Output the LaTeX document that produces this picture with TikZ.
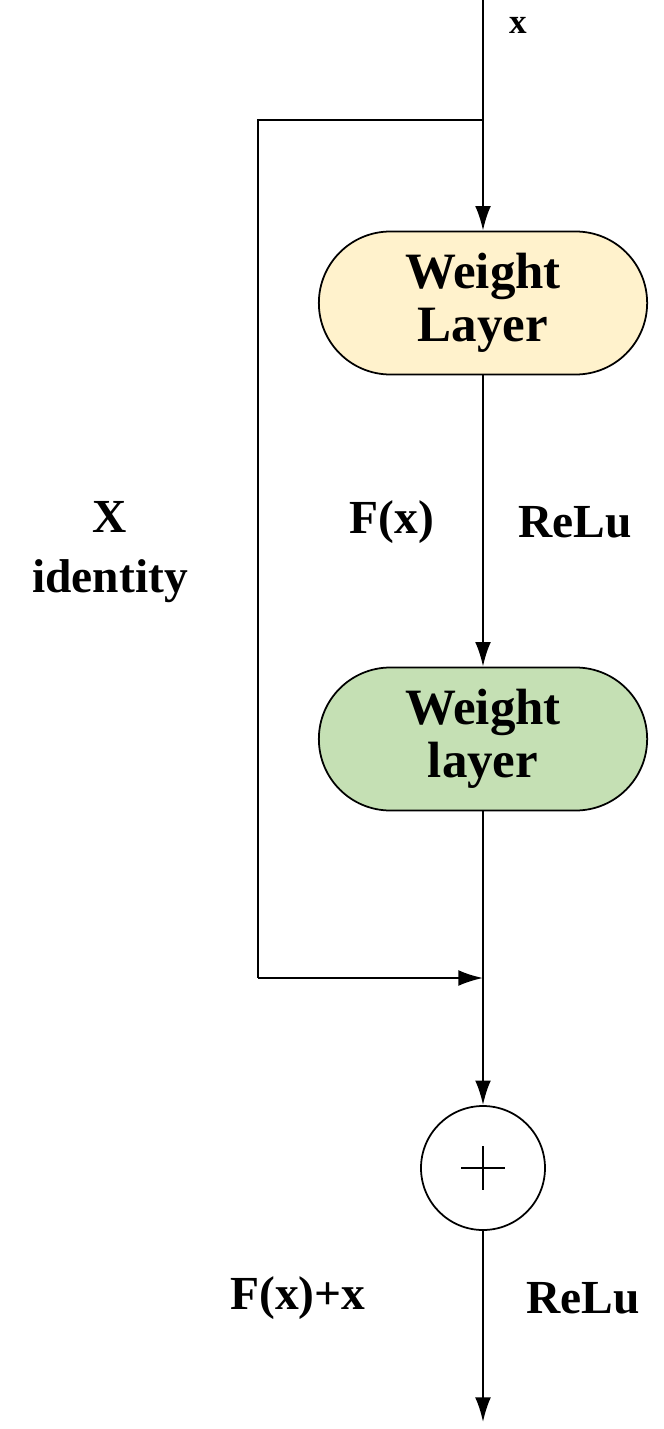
\documentclass[tikz,border=0pt]{standalone}
\usepackage{fontspec}
\setmainfont{Liberation Serif}
\usetikzlibrary{arrows.meta,shapes.misc}
\definecolor{yel}{HTML}{FFF2CC}
\definecolor{grn}{HTML}{C5E0B4}
\begin{document}
\begin{tikzpicture}[x=0.02cm,y=-0.02cm,
  line width=1.2pt,
  arr/.style={-{Latex[length=14pt,width=9pt]}},
  box/.style={rounded rectangle,draw,line width=1pt,minimum width=340*0.02cm,minimum height=143*0.02cm,align=center,font=\fontsize{29}{34}\selectfont\bfseries},
  lab/.style={font=\fontsize{27}{32}\selectfont\bfseries,align=center}]
\useasboundingbox (0,0) rectangle (663,1429);
\coordinate (top) at (483,0);
\coordinate (br) at (483,120);
\coordinate (bl) at (258,120);
\coordinate (cl) at (258,978);
\coordinate (j) at (483,978);
\coordinate (end) at (483,1422);
\node[box,fill=yel] (b1) at (483,303) {Weight\\[-4pt]Layer};
\node[box,fill=grn] (b2) at (483,739) {Weight\\[-4pt]layer};
\node[circle,draw,line width=1pt,minimum size=124*0.02cm] (c) at (483,1168) {};
\draw (c.center)+(-22,0) -- +(22,0);
\draw (c.center)+(0,-22) -- +(0,22);
\node[font=\fontsize{20}{22}\selectfont\bfseries] (xl) at (518,25) {x};
\draw[arr] (top) -- (b1.north);
\draw[arr] (b1.south) -- (b2.north);
\draw (b2.south) -- (j);
\draw (br) -- (bl) -- (cl);
\draw[arr] (cl) -- (j);
\draw[arr] (j) -- (c.north);
\draw[arr] (c.south) -- (end);
\node[lab] (lx) at (110,552) {X\\[2pt]identity};
\node[lab] (lf) at (392,522) {F(x)};
\node[lab] (lr) at (575,522) {ReLu};
\node[lab] (lf2) at (298,1298) {F(x)+x};
\node[lab] (lr2) at (583,1298) {ReLu};
\end{tikzpicture}
\end{document}
